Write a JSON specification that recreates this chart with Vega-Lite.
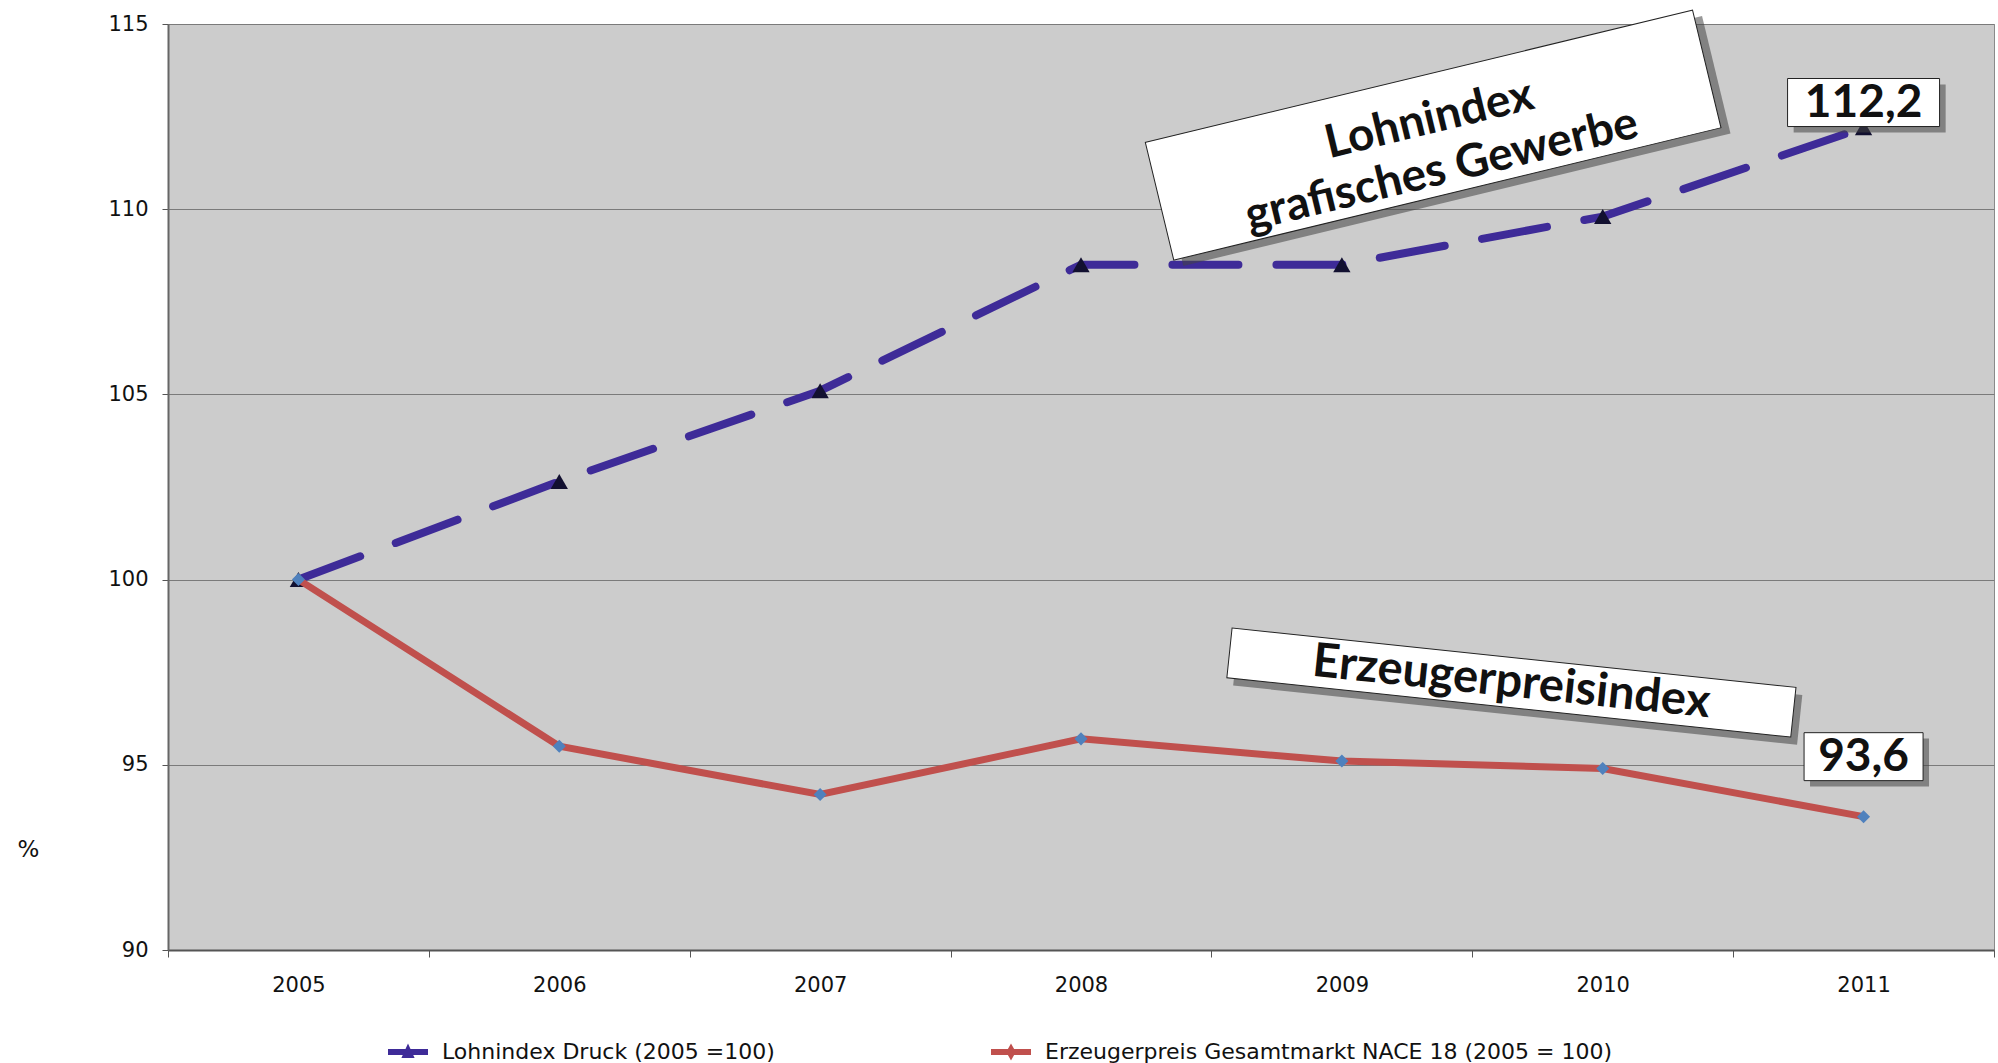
{
  "$schema": "https://vega.github.io/schema/vega-lite/v6.json",
  "width": 1826,
  "height": 926,
  "autosize": "none",
  "padding": {"left": 168, "top": 24, "right": 4, "bottom": 113},
  "background": "white",
  "config": {
    "view": {"fill": "#cccccc", "stroke": "#8a8a8a", "strokeWidth": 1}
  },
  "datasets": {
    "series": [
      {"year": 2005, "series": "Lohnindex Druck (2005 =100)", "value": 100},
      {"year": 2006, "series": "Lohnindex Druck (2005 =100)", "value": 102.65},
      {"year": 2007, "series": "Lohnindex Druck (2005 =100)", "value": 105.1},
      {"year": 2008, "series": "Lohnindex Druck (2005 =100)", "value": 108.5},
      {"year": 2009, "series": "Lohnindex Druck (2005 =100)", "value": 108.5},
      {"year": 2010, "series": "Lohnindex Druck (2005 =100)", "value": 109.8},
      {"year": 2011, "series": "Lohnindex Druck (2005 =100)", "value": 112.2},
      {"year": 2005, "series": "Erzeugerpreis Gesamtmarkt NACE 18 (2005 = 100)", "value": 100},
      {"year": 2006, "series": "Erzeugerpreis Gesamtmarkt NACE 18 (2005 = 100)", "value": 95.5},
      {"year": 2007, "series": "Erzeugerpreis Gesamtmarkt NACE 18 (2005 = 100)", "value": 94.2},
      {"year": 2008, "series": "Erzeugerpreis Gesamtmarkt NACE 18 (2005 = 100)", "value": 95.7},
      {"year": 2009, "series": "Erzeugerpreis Gesamtmarkt NACE 18 (2005 = 100)", "value": 95.1},
      {"year": 2010, "series": "Erzeugerpreis Gesamtmarkt NACE 18 (2005 = 100)", "value": 94.9},
      {"year": 2011, "series": "Erzeugerpreis Gesamtmarkt NACE 18 (2005 = 100)", "value": 93.6}
    ]
  },
  "encoding": {
    "x": {
      "field": "year",
      "type": "quantitative",
      "scale": {"domain": [2004.5, 2011.5], "nice": false, "zero": false},
      "axis": {
        "values": [2004.5, 2005, 2005.5, 2006, 2006.5, 2007, 2007.5, 2008, 2008.5, 2009, 2009.5, 2010, 2010.5, 2011, 2011.5],
        "labelExpr": "datum.value % 1 == 0 ? format(datum.value, 'd') : ''",
        "tickOpacity": {"condition": {"test": "datum.value % 1 == 0", "value": 0}, "value": 1},
        "labelOverlap": false,
        "labelFlush": false,
        "grid": false,
        "title": null,
        "tickSize": 7,
        "tickColor": "#555555",
        "domainColor": "#555555",
        "domainWidth": 2,
        "labelPadding": 17,
        "labelFont": "DejaVu Sans",
        "labelFontSize": 21,
        "labelColor": "#111111"
      }
    },
    "y": {
      "field": "value",
      "type": "quantitative",
      "scale": {"domain": [90, 115], "nice": false, "zero": false},
      "axis": {
        "values": [90, 95, 100, 105, 110, 115],
        "title": "%",
        "titleAngle": 0,
        "titleX": -140,
        "titleY": 825,
        "titleAlign": "center",
        "titleBaseline": "middle",
        "titleFont": "DejaVu Sans",
        "titleFontSize": 23,
        "titleFontWeight": "normal",
        "titleColor": "#111111",
        "grid": true,
        "gridColor": "#7a7a7a",
        "gridWidth": 1,
        "tickSize": 6,
        "tickColor": "#555555",
        "domainColor": "#666666",
        "domainWidth": 2,
        "labelPadding": 14,
        "labelFont": "DejaVu Sans",
        "labelFontSize": 21,
        "labelColor": "#111111"
      }
    }
  },
  "layer": [
    {
      "data": {"name": "series"},
      "transform": [{"filter": "indexof(datum.series, 'Lohn') === 0"}],
      "mark": {"type": "line", "strokeWidth": 8, "strokeDash": [66, 38], "strokeCap": "round"},
      "encoding": {
        "color": {
          "field": "series",
          "type": "nominal",
          "scale": {
            "domain": ["Lohnindex Druck (2005 =100)", "Erzeugerpreis Gesamtmarkt NACE 18 (2005 = 100)"],
            "range": ["#3e2b98", "#c0504d"]
          },
          "legend": {
            "orient": "none",
            "legendX": 220,
            "legendY": 1008,
            "direction": "horizontal",
            "title": null,
            "padding": 0,
            "symbolSize": 1600,
            "symbolType": "M-1,-0.15H1V0.15H-1Z",
            "symbolStrokeWidth": 0,
            "labelOffset": 14,
            "columnPadding": 216,
            "labelFont": "DejaVu Sans",
            "labelFontSize": 22,
            "labelColor": "#111111",
            "labelLimit": 800,
            "encode": {
              "symbols": {
                "update": {
                  "shape": {"signal": "indexof(datum.value, 'Lohn') === 0 ? 'M-1,-0.15H1V0.15H-1Z M0,-0.42L0.33,0.3L-0.33,0.3Z' : 'M-1,-0.15H1V0.15H-1Z M0,-0.42L0.24,0L0,0.42L-0.24,0Z'"},
                  "fill": {"scale": "color", "field": "value"},
                  "strokeWidth": {"value": 0},
                  "opacity": {"value": 1}
                }
              }
            }
          }
        }
      }
    },
    {
      "data": {"name": "series"},
      "transform": [{"filter": "indexof(datum.series, 'Lohn') === 0"}],
      "mark": {"type": "point", "shape": "triangle-up", "filled": true, "fill": "#121030", "size": 300, "opacity": 1}
    },
    {
      "data": {"name": "series"},
      "transform": [{"filter": "indexof(datum.series, 'Erzeuger') === 0"}],
      "mark": {"type": "line", "strokeWidth": 7},
      "encoding": {
        "color": {"field": "series", "type": "nominal"}
      }
    },
    {
      "data": {"name": "series"},
      "transform": [{"filter": "indexof(datum.series, 'Erzeuger') === 0"}],
      "mark": {"type": "point", "shape": "diamond", "filled": true, "fill": "#4f81bd", "size": 170, "opacity": 1}
    },
    {
      "data": {"values": [{"year": 2009.35, "value": 112.0, "label": "Lohnindex\ngrafisches Gewerbe"}]},
      "layer": [
        {"mark": {"type": "point", "shape": "M-0.972,-0.187H1.028V0.243H-0.972Z", "size": 316969, "angle": -13.6, "filled": true, "fill": "#444444", "opacity": 0.55, "strokeWidth": 0}},
        {"mark": {"type": "point", "shape": "M-1,-0.215H1V0.215H-1Z", "size": 316969, "angle": -13.6, "filled": true, "fill": "white", "stroke": "#222222", "strokeWidth": 1, "opacity": 1}},
        {"mark": {"type": "text", "font": "Lato", "fontWeight": "bold", "fontSize": 46, "angle": -13.6, "align": "center", "baseline": "middle", "lineBreak": "\n", "lineHeight": 52, "dy": -16, "color": "#111111"}, "encoding": {"text": {"field": "label"}}}
      ]
    },
    {
      "data": {"values": [{"year": 2009.65, "value": 97.22, "label": "Erzeugerpreisindex"}]},
      "layer": [
        {"mark": {"type": "point", "shape": "M-0.975,-0.0635H1.025V0.113H-0.975Z", "size": 321489, "angle": 6, "filled": true, "fill": "#444444", "opacity": 0.55, "strokeWidth": 0}},
        {"mark": {"type": "point", "shape": "M-1,-0.0882H1V0.0882H-1Z", "size": 321489, "angle": 6, "filled": true, "fill": "white", "stroke": "#222222", "strokeWidth": 1, "opacity": 1}},
        {"mark": {"type": "text", "font": "Lato", "fontWeight": "bold", "fontSize": 47, "angle": 6, "align": "center", "baseline": "middle", "color": "#111111"}, "encoding": {"text": {"field": "label"}}}
      ]
    },
    {
      "data": {"values": [{"year": 2011.0, "value": 112.88, "label": "112,2"}]},
      "layer": [
        {"mark": {"type": "point", "shape": "M-0.92,-0.237H1.08V0.395H-0.92Z", "size": 23104, "filled": true, "fill": "#444444", "opacity": 0.55, "strokeWidth": 0}},
        {"mark": {"type": "point", "shape": "M-1,-0.316H1V0.316H-1Z", "size": 23104, "filled": true, "fill": "white", "stroke": "#222222", "strokeWidth": 1, "opacity": 1}},
        {"mark": {"type": "text", "font": "Lato", "fontWeight": "bold", "fontSize": 46, "align": "center", "baseline": "middle", "color": "#111111"}, "encoding": {"text": {"field": "label"}}}
      ]
    },
    {
      "data": {"values": [{"year": 2011.0, "value": 95.22, "label": "93,6"}]},
      "layer": [
        {"mark": {"type": "point", "shape": "M-0.9,-0.303H1.1V0.503H-0.9Z", "size": 14161, "filled": true, "fill": "#444444", "opacity": 0.55, "strokeWidth": 0}},
        {"mark": {"type": "point", "shape": "M-1,-0.403H1V0.403H-1Z", "size": 14161, "filled": true, "fill": "white", "stroke": "#222222", "strokeWidth": 1, "opacity": 1}},
        {"mark": {"type": "text", "font": "Lato", "fontWeight": "bold", "fontSize": 46, "align": "center", "baseline": "middle", "color": "#111111"}, "encoding": {"text": {"field": "label"}}}
      ]
    }
  ]
}
